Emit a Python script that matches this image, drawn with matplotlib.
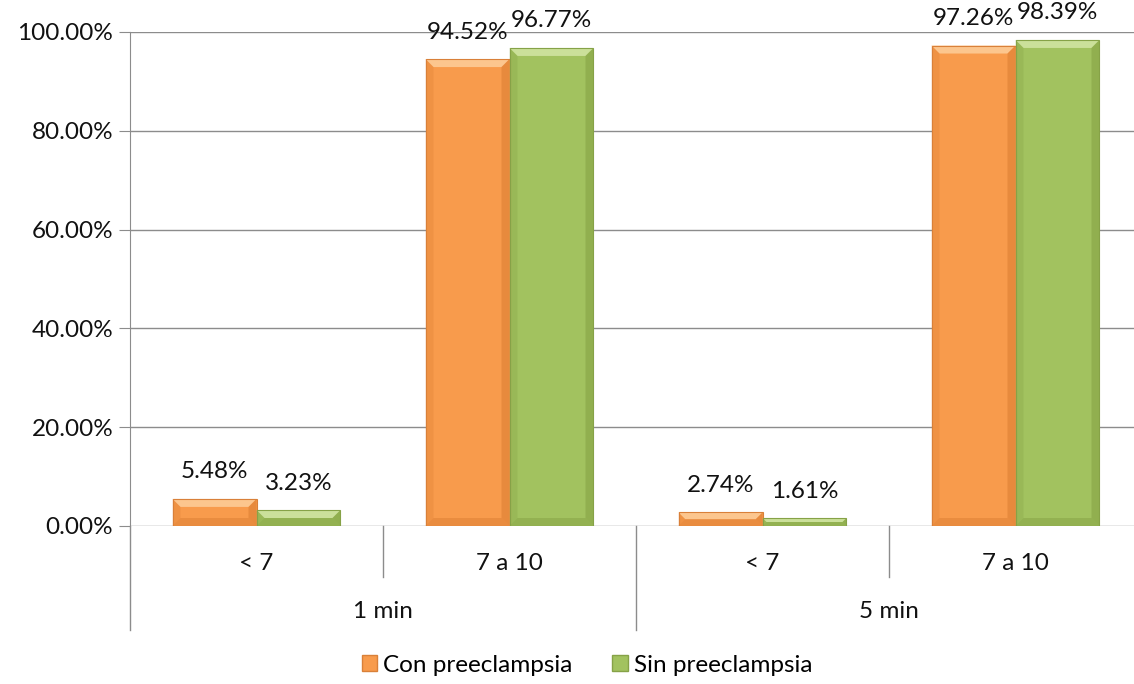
import matplotlib
matplotlib.use("Agg")
import matplotlib.pyplot as plt
from matplotlib.patches import Polygon, Patch
from matplotlib.transforms import blended_transform_factory

plt.rcParams['font.family'] = ['Lato', 'DejaVu Sans']

# Data
categories = ["< 7", "7 a 10", "< 7", "7 a 10"]
groups = ["1 min", "5 min"]
series_names = ["Con preeclampsia", "Sin preeclampsia"]
con_values = [5.48, 94.52, 2.74, 97.26]
sin_values = [3.23, 96.77, 1.61, 98.39]

base_colors = ["#F89B4C", "#A2C25F"]
light_colors = ["#FCC68E", "#CBE09A"]
dark_colors = ["#D87A30", "#819E40"]
edge_colors = ["#D98039", "#86A247"]

FS = 17.5
W, H = 1134, 684
fig = plt.figure(figsize=(W / 100, H / 100), dpi=100)
ax_left, ax_right, ax_top, ax_bottom = 130, 1142, 32, 526
ax = fig.add_axes([ax_left / W, (H - ax_bottom) / H,
                   (ax_right - ax_left) / W, (ax_bottom - ax_top) / H])

n = len(categories)
ax.set_xlim(-0.5, n - 0.5)
ax.set_ylim(0, 100)

px_x = n / (ax_right - ax_left)      # data units per pixel, x
px_y = 100 / (ax_bottom - ax_top)    # data units per pixel, y

bar_w = 0.332
grid_c = "#8C8C8C"

ax.set_yticks(range(0, 101, 20))
ax.set_yticklabels([f"{v:.2f}%" for v in range(0, 101, 20)])
ax.yaxis.grid(True, color=grid_c, linewidth=1.0)
ax.set_axisbelow(True)
for s in ["top", "right", "bottom"]:
    ax.spines[s].set_visible(False)
ax.spines["left"].set_color(grid_c)
ax.tick_params(axis="y", length=8, color=grid_c, labelsize=FS, pad=4,
               labelcolor="#111111")
ax.set_xticks([])


def bevel_bar(xc, val, k):
    bars = ax.bar(xc, val, width=bar_w, color=base_colors[k],
                  edgecolor="none", linewidth=0, zorder=3)
    r = bars[0]
    x0, x1 = r.get_x(), r.get_x() + r.get_width()
    y0, y1 = r.get_y(), r.get_y() + r.get_height()
    b_pix = min(8, (val / px_y) / 2)
    bx, by = b_pix * px_x, b_pix * px_y
    # top highlight
    ax.add_patch(Polygon([(x0, y1), (x1, y1), (x1 - bx, y1 - by), (x0 + bx, y1 - by)],
                         closed=True, facecolor=light_colors[k], edgecolor="none", zorder=4))
    # side shading
    ax.add_patch(Polygon([(x0, y1), (x0 + bx, y1 - by), (x0 + bx, y0 + by), (x0, y0)],
                         closed=True, facecolor=dark_colors[k], edgecolor="none",
                         alpha=0.25, zorder=4))
    ax.add_patch(Polygon([(x1, y1), (x1 - bx, y1 - by), (x1 - bx, y0 + by), (x1, y0)],
                         closed=True, facecolor=dark_colors[k], edgecolor="none",
                         alpha=0.5, zorder=4))
    ax.add_patch(Polygon([(x0, y0), (x1, y0), (x1 - bx, y0 + by), (x0 + bx, y0 + by)],
                         closed=True, facecolor=dark_colors[k], edgecolor="none",
                         alpha=0.45, zorder=4))
    ax.add_patch(plt.Rectangle((x0, y0), x1 - x0, y1 - y0, fill=False,
                               edgecolor=edge_colors[k], linewidth=0.8, zorder=5))
    ax.annotate(f"{val:.2f}%", (xc, val), xytext=(0, 27), textcoords="offset pixels",
                ha="center", va="center", fontsize=FS, color="#111111", zorder=6)


for i in range(n):
    bevel_bar(i - bar_w / 2, con_values[i], 0)
    bevel_bar(i + bar_w / 2, sin_values[i], 1)

# Category axis with two label levels
tr = blended_transform_factory(ax.transData, ax.transAxes)
axis_h = ax_bottom - ax_top
short_y = -(577 - ax_bottom) / axis_h
long_y = -(630 - ax_bottom) / axis_h
for b in range(n + 1):
    xb = b - 0.5
    yb = long_y if b % 2 == 0 else short_y
    ax.plot([xb, xb], [0, yb], transform=tr, color=grid_c, linewidth=1.0,
            clip_on=False, zorder=2)
for i, c in enumerate(categories):
    ax.text(i, -(563 - ax_bottom) / axis_h, c, transform=tr, ha="center",
            va="center", fontsize=FS, color="#111111")
for g, name in enumerate(groups):
    ax.text(2 * g + 0.5, -(612 - ax_bottom) / axis_h, name, transform=tr,
            ha="center", va="center", fontsize=FS, color="#111111")

handles = [Patch(facecolor=base_colors[k], edgecolor=edge_colors[k]) for k in range(2)]
fig.legend(handles, series_names, loc="center", bbox_to_anchor=(587 / W, (H - 665) / H),
           ncol=2, frameon=False, fontsize=FS, handlelength=0.62, handleheight=0.62,
           handletextpad=0.25, columnspacing=1.65, borderpad=0)

fig.savefig("out.png", dpi=100)
